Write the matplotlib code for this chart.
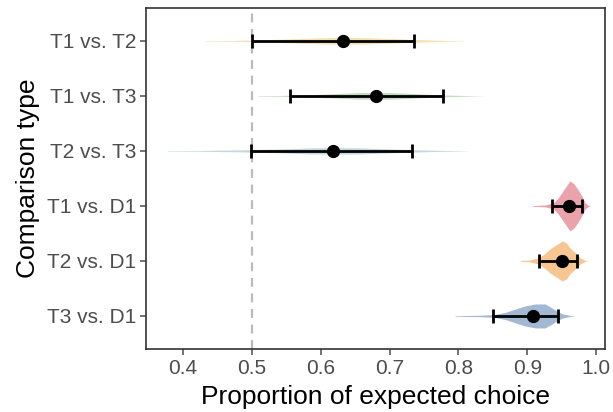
import matplotlib
matplotlib.use("Agg")
import matplotlib.pyplot as plt
import numpy as np

plt.rcParams['font.family'] = ['Liberation Sans', 'DejaVu Sans']

# === 資料 ===
categories = ["T1 vs. T2", "T1 vs. T3", "T2 vs. T3", "T1 vs. D1", "T2 vs. D1", "T3 vs. D1"]
means = [0.633, 0.680, 0.618, 0.961, 0.951, 0.909]
ci_low = [0.500, 0.556, 0.498, 0.936, 0.917, 0.850]
ci_high = [0.736, 0.778, 0.732, 0.980, 0.972, 0.945]
colors = ["#EBC870", "#8FC08C", "#86B5B8", "#EBA3AB", "#F7C692", "#A3B8D3"]

# violin 輪廓（x 值與相對半寬）
violin_x = [
    [0.432, 0.468, 0.512, 0.556, 0.599, 0.635, 0.672, 0.715, 0.744, 0.774, 0.803, 0.810],
    [0.508, 0.541, 0.585, 0.628, 0.657, 0.679, 0.701, 0.730, 0.759, 0.788, 0.817, 0.839],
    [0.377, 0.425, 0.483, 0.541, 0.585, 0.618, 0.657, 0.701, 0.744, 0.774, 0.803, 0.817],
    [0.907, 0.926, 0.938, 0.945, 0.951, 0.957, 0.962, 0.968, 0.974, 0.980, 0.984, 0.989, 0.992],
    [0.890, 0.904, 0.916, 0.925, 0.933, 0.942, 0.951, 0.957, 0.962, 0.970, 0.977, 0.984, 0.989],
    [0.795, 0.832, 0.853, 0.868, 0.883, 0.897, 0.912, 0.926, 0.936, 0.945, 0.952, 0.962, 0.970],
]
violin_w = [
    [0.004, 0.007, 0.018, 0.036, 0.055, 0.064, 0.055, 0.036, 0.022, 0.009, 0.004, 0.0],
    [0.004, 0.007, 0.022, 0.045, 0.060, 0.065, 0.060, 0.045, 0.027, 0.013, 0.005, 0.0],
    [0.004, 0.007, 0.018, 0.036, 0.055, 0.060, 0.055, 0.036, 0.018, 0.009, 0.004, 0.0],
    [0.005, 0.018, 0.055, 0.145, 0.255, 0.364, 0.455, 0.400, 0.291, 0.164, 0.055, 0.009, 0.0],
    [0.005, 0.018, 0.055, 0.127, 0.218, 0.291, 0.364, 0.327, 0.236, 0.145, 0.055, 0.009, 0.0],
    [0.005, 0.013, 0.027, 0.064, 0.127, 0.182, 0.218, 0.218, 0.145, 0.073, 0.036, 0.009, 0.0],
]
alphas = [0.55, 0.55, 0.5, 1.0, 1.0, 1.0]

# === 畫圖 ===
fig = plt.figure(figsize=(6.13, 4.12), dpi=100)
ax = fig.add_axes([0.238, 0.153, 0.749, 0.828])

n = len(categories)
ypos = np.arange(n, 0, -1)

ax.axvline(0.5, color="#BBBBBB", linestyle=(0, (4, 3)), linewidth=1.6, zorder=1)

for i in range(n):
    vx = np.array(violin_x[i])
    vw = np.array(violin_w[i])
    ax.fill_between(vx, ypos[i] - vw, ypos[i] + vw, color=colors[i], alpha=alphas[i],
                    linewidth=0, zorder=2)

ax.errorbar(means, ypos,
            xerr=[np.array(means) - np.array(ci_low), np.array(ci_high) - np.array(means)],
            fmt="o", color="black", ecolor="black", elinewidth=2.0, capsize=5, capthick=2.0,
            markersize=8.5, zorder=3)

ax.set_xlim(0.346, 1.013)
ax.set_ylim(0.4, 6.6)
ax.set_xticks([0.4, 0.5, 0.6, 0.7, 0.8, 0.9, 1.0])
ax.set_xticklabels(["0.4", "0.5", "0.6", "0.7", "0.8", "0.9", "1.0"])
ax.set_yticks(ypos)
ax.set_yticklabels(categories)

ax.tick_params(axis="both", labelsize=15, colors="#4D4D4D", length=4, width=1.1, pad=3)
for s in ax.spines.values():
    s.set_color("#333333")
    s.set_linewidth(1.2)

ax.set_xlabel("Proportion of expected choice", fontsize=19, labelpad=5)
ax.set_ylabel("Comparison type", fontsize=19, labelpad=5)

plt.savefig("out.png", dpi=100)
plt.close()
